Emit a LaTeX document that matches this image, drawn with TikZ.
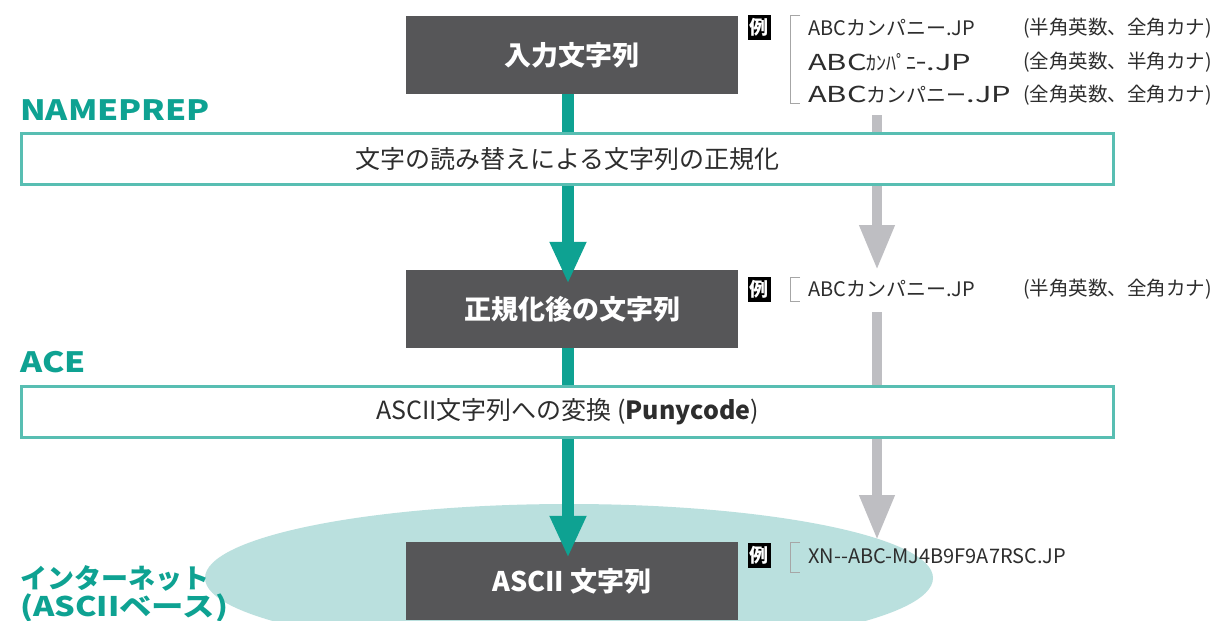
\documentclass[tikz,border=0pt]{standalone}
\usepackage{fontspec}
\setmainfont{Noto Sans CJK JP}
\newfontfamily\labfont{Noto Sans CJK JP}[FakeStretch=1.2]
\newfontfamily\wideLat{Noto Sans CJK JP}[FakeStretch=1.4]
\usetikzlibrary{arrows.meta,shapes.geometric}
\definecolor{tealA}{RGB}{14,162,146}
\definecolor{tealB}{RGB}{88,190,178}
\definecolor{ellC}{RGB}{186,224,222}
\definecolor{darkC}{RGB}{86,86,88}
\definecolor{grayA}{RGB}{190,190,194}
\definecolor{txtC}{RGB}{45,45,45}
\begin{document}
\begin{tikzpicture}[x=1pt,y=-1pt,
  darkbox/.style={fill=darkC, text=white, minimum width=332pt, minimum height=78pt, inner sep=0pt, font=\fontsize{27}{27}\selectfont\bfseries},
  widebox/.style={draw=tealB, line width=3pt, fill=white, minimum width=1092pt, minimum height=51pt, inner sep=0pt, text=txtC, font=\fontsize{25}{25}\selectfont},
  tealarrow/.style={draw=tealA, line width=12pt, -{Triangle[width=34pt,length=42pt]}},
  grayarrow/.style={draw=grayA, line width=10pt, -{Triangle[width=33pt,length=45pt]}},
  lab/.style={anchor=base west, inner sep=0pt, text=tealA, font=\fontsize{28}{28}\labfont\bfseries},
  labj/.style={anchor=base west, inner sep=0pt, text=tealA, font=\fontsize{27}{27}\selectfont\bfseries},
  labw/.style={anchor=base west, inner sep=0pt, text=tealA, font=\fontsize{27}{27}\labfont\bfseries},
  ex/.style={anchor=west, inner sep=0pt, text=txtC, font=\fontsize{20}{20}\selectfont},
  exnote/.style={anchor=east, inner sep=0pt, text=txtC, font=\fontsize{19.5}{19.5}\selectfont},
  tag/.style={fill=black, text=white, minimum width=23pt, minimum height=25pt, inner sep=0pt, font=\fontsize{19}{19}\selectfont\bfseries},
  bracket/.style={draw=gray!70, line width=1pt}
]
\useasboundingbox (0,0) rectangle (1213,621);
\fill[white] (0,0) rectangle (1213,621);

% internet ellipse
\node[ellipse, fill=ellC, minimum width=728pt, minimum height=148pt, inner sep=0pt] (net) at (569,578) {};

% dark boxes
\node[darkbox] (in) at (572,55) {入力文字列};
\node[darkbox] (norm) at (572,309) {正規化後の文字列};
\node[darkbox] (ascii) at (572,581) {ASCII 文字列};

% teal arrows
\draw[tealarrow, shorten >=-14pt] ([xshift=-4pt]in.south) -- ([xshift=-4pt]norm.north);
\draw[tealarrow, shorten >=-16pt] ([xshift=-4pt]norm.south) -- ([xshift=-4pt]ascii.north);

% gray arrows
\coordinate (g1s) at (877,115);
\coordinate (g1e) at (877,270);
\coordinate (g2s) at (877,312);
\coordinate (g2e) at (877,540);
\draw[grayarrow] (g1s) -- (g1e);
\draw[grayarrow] (g2s) -- (g2e);

% wide process boxes
\node[widebox] (prep) at (567.5,159) {文字の読み替えによる文字列の正規化};
\node[widebox] (ace) at (567.5,412) {ASCII文字列への変換 ({\bfseries Punycode})};

% labels
\node[lab] (lprep) at (20,120) {NAMEPREP};
\node[lab] (lace) at (20,372) {ACE};
\node[labj] (lnet1) at (20,588) {インターネット};
\node[labw] (lnet2) at (20,616) {(ASCIIベース)};

% example 1
\node[tag] (t1) at (759,27) {例};
\draw[bracket] (800,15) -| (790,103) -- (800,103);
\node[ex] (e11) at (808,28) {ABCカンパニー.JP};
\node[ex] (e12) at (808,62) {{\wideLat\fontsize{22}{22}\selectfont ABC}ｶﾝﾊﾟﾆｰ{\wideLat\fontsize{22}{22}\selectfont .JP}};
\node[ex] (e13) at (808,95) {{\wideLat\fontsize{22}{22}\selectfont ABC}カンパニー{\wideLat\fontsize{22}{22}\selectfont .JP}};
\node[exnote] (n11) at (1212,28) {(半角英数、全角カナ)};
\node[exnote] (n12) at (1212,62) {(全角英数、半角カナ)};
\node[exnote] (n13) at (1212,95) {(全角英数、全角カナ)};

% example 2
\node[tag] (t2) at (759,289) {例};
\draw[bracket] (800,277) -| (790,301) -- (800,301);
\node[ex] (e21) at (808,289) {ABCカンパニー.JP};
\node[exnote] (n21) at (1212,289) {(半角英数、全角カナ)};

% example 3
\node[tag] (t3) at (759,555) {例};
\draw[bracket] (800,542) -| (790,572) -- (800,572);
\node[ex] (e31) at (808,556) {XN-{}-ABC-MJ4B9F9A7RSC.JP};
\end{tikzpicture}
\end{document}
